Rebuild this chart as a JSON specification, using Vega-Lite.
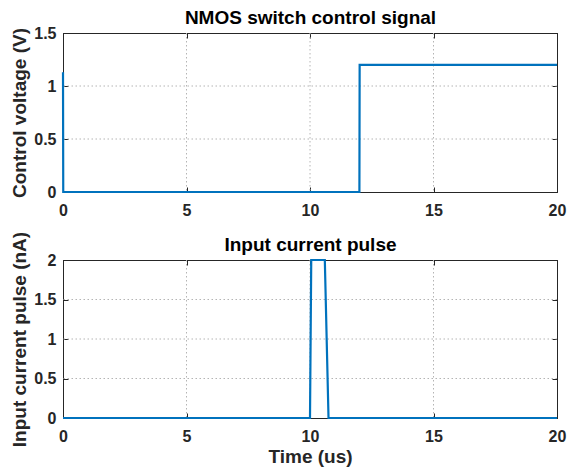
{
  "$schema": "https://vega.github.io/schema/vega-lite/v6.json",
  "background": "white",
  "padding": {"left": 10, "top": 8, "right": 8, "bottom": 5},
  "spacing": 68,
  "bounds": "flush",
  "datasets": {
    "control": [
      {"t": 0, "v": 1.13},
      {"t": 0.01, "v": 0},
      {"t": 12, "v": 0},
      {"t": 12.01, "v": 1.2},
      {"t": 20, "v": 1.2}
    ],
    "pulse": [
      {"t": 0, "i": 0},
      {"t": 10, "i": 0},
      {"t": 10.05, "i": 2},
      {"t": 10.6, "i": 2},
      {"t": 10.75, "i": 0},
      {"t": 20, "i": 0}
    ],
    "time_grid": [{"t": 5}, {"t": 10}, {"t": 15}],
    "volt_grid": [{"v": 0.5}, {"v": 1}],
    "amp_grid": [{"i": 0.5}, {"i": 1}, {"i": 1.5}]
  },
  "config": {
    "font": "Liberation Sans",
    "view": {"stroke": "#262626", "strokeWidth": 1},
    "axis": {
      "domainColor": "#262626",
      "tickColor": "#262626",
      "labelColor": "#262626",
      "titleColor": "#262626",
      "labelFont": "Liberation Sans",
      "titleFont": "Liberation Sans",
      "labelFontSize": 16,
      "labelFontWeight": "bold",
      "labelFlush": false,
      "titleFontSize": 19,
      "titleFontWeight": "bold",
      "tickSize": -5,
      "grid": false
    },
    "axisX": {"labelPadding": 15},
    "axisY": {"labelPadding": 12},
    "axisTop": {"titleColor": "#000000", "titleBaseline": "alphabetic", "titlePadding": 9, "labelPadding": 0},
    "rule": {"color": "#b4b4b4", "strokeWidth": 1, "strokeDash": [1.5, 2.5]},
    "line": {"color": "#0072BD", "strokeWidth": 2.2}
  },
  "vconcat": [
    {
      "width": 494,
      "height": 159,
      "layer": [
        {
          "data": {"name": "time_grid"},
          "mark": "rule",
          "encoding": {"x": {"field": "t", "type": "quantitative", "axis": null}}
        },
        {
          "data": {"name": "volt_grid"},
          "mark": "rule",
          "encoding": {"y": {"field": "v", "type": "quantitative", "axis": null}}
        },
        {
          "data": {"name": "control"},
          "mark": {"type": "line"},
          "encoding": {
            "x": {"field": "t", "type": "quantitative", "scale": {"domain": [0, 20], "nice": false},
                  "axis": {"values": [0, 5, 10, 15, 20], "title": null, "format": "~g"}},
            "y": {"field": "v", "type": "quantitative", "scale": {"domain": [0, 1.5], "nice": false},
                  "axis": {"values": [0, 0.5, 1, 1.5], "title": "Control voltage (V)", "format": "~g", "titlePadding": 4}}
          }
        },
        {
          "data": {"name": "control"},
          "mark": {"type": "line", "strokeOpacity": 0},
          "encoding": {
            "x": {"field": "t", "type": "quantitative",
                  "axis": {"orient": "top", "values": [0, 5, 10, 15, 20], "labels": false, "title": "NMOS switch control signal"}},
            "y": {"field": "v", "type": "quantitative",
                  "axis": {"orient": "right", "values": [0, 0.5, 1, 1.5], "labels": false, "title": null}}
          }
        }
      ],
      "resolve": {"axis": {"x": "independent", "y": "independent"}}
    },
    {
      "width": 494,
      "height": 158,
      "layer": [
        {
          "data": {"name": "time_grid"},
          "mark": "rule",
          "encoding": {"x": {"field": "t", "type": "quantitative", "axis": null}}
        },
        {
          "data": {"name": "amp_grid"},
          "mark": "rule",
          "encoding": {"y": {"field": "i", "type": "quantitative", "axis": null}}
        },
        {
          "data": {"name": "pulse"},
          "mark": {"type": "line"},
          "encoding": {
            "x": {"field": "t", "type": "quantitative", "scale": {"domain": [0, 20], "nice": false},
                  "axis": {"values": [0, 5, 10, 15, 20], "title": "Time (us)", "format": "~g", "titlePadding": 3}},
            "y": {"field": "i", "type": "quantitative", "scale": {"domain": [0, 2], "nice": false},
                  "axis": {"values": [0, 0.5, 1, 1.5, 2], "title": "Input current pulse (nA)", "format": "~g", "titlePadding": 4}}
          }
        },
        {
          "data": {"name": "pulse"},
          "mark": {"type": "line", "strokeOpacity": 0},
          "encoding": {
            "x": {"field": "t", "type": "quantitative",
                  "axis": {"orient": "top", "values": [0, 5, 10, 15, 20], "labels": false, "title": "Input current pulse"}},
            "y": {"field": "i", "type": "quantitative",
                  "axis": {"orient": "right", "values": [0, 0.5, 1, 1.5, 2], "labels": false, "title": null}}
          }
        }
      ],
      "resolve": {"axis": {"x": "independent", "y": "independent"}}
    }
  ]
}
